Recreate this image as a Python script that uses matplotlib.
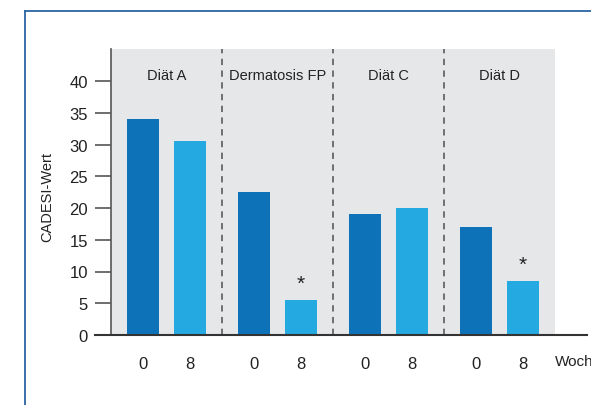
import matplotlib
matplotlib.use("Agg")
import matplotlib.pyplot as plt
from matplotlib.lines import Line2D

plt.rcParams['font.family'] = ['Liberation Sans Narrow', 'Liberation Sans', 'DejaVu Sans']

groups = ["Diät A", "Dermatosis FP", "Diät C", "Diät D"]
weeks = ["0", "8"]
week0 = [34.0, 22.5, 19.0, 17.0]
week8 = [30.5, 5.5, 20.0, 8.5]
significant = [False, True, False, True]  # week 8 marked with *
yticks = [0, 5, 10, 15, 20, 25, 30, 35, 40]

dark = "#0e72b9"
light = "#24a9e1"
bg = "#e6e7e9"
grey = "#555555"

W, H = 591, 406
fig = plt.figure(figsize=(W / 100, H / 100), dpi=100)

# blue frame around the figure
frame = "#2a64a4"
fig.add_artist(Line2D([25 / W, 25 / W], [0, 1 - 12 / H], color=frame, lw=1.3))
fig.add_artist(Line2D([25 / W, 1], [1 - 12 / H, 1 - 12 / H], color=frame, lw=1.3))

ax = fig.add_axes([111 / W, (H - 336) / H, (587 - 111) / W, 286 / H])
ax.set_facecolor("none")
ax.set_xlim(0, 476 / 111)
ax.set_ylim(0, 286 / 6.35)

ax.axvspan(0, len(groups), color=bg, zorder=0, lw=0)

off = 23.5 / 111
bw = 32 / 111
xs, labels = [], []
for i, g in enumerate(groups):
    c = i + 0.5
    ax.bar(c - off, week0[i], width=bw, color=dark, zorder=2)
    ax.bar(c + off, week8[i], width=bw, color=light, zorder=2)
    if significant[i]:
        ax.text(c + off, week8[i] + 1.2, "*", ha="center", va="bottom",
                fontsize=15, color="#222222")
    ax.text(c, 41, g, ha="center", va="center", fontsize=10.5, color="#222222")
    xs += [c - off, c + off]
    labels += weeks
    if i > 0:
        ax.axvline(i, color="#666666", lw=1.3, ls=(0, (3.5, 3)), zorder=1)

ax.set_xticks(xs, labels)
ax.set_yticks(yticks)
ax.tick_params(axis="x", length=0, pad=15, labelsize=12, labelcolor="#222222")
ax.tick_params(axis="y", length=11.5, width=1.2, color=grey, pad=5,
               labelsize=12, labelcolor="#222222")

for s in ["top", "right", "bottom"]:
    ax.spines[s].set_visible(False)
ax.spines["left"].set_color(grey)
ax.spines["left"].set_linewidth(1.2)

# baseline reaching beyond the axis on the left
ax.plot([-16 / 111, 476 / 111], [0, 0], color="#333333", lw=1.5,
        clip_on=False, zorder=3)

ax.text(4.0, -4.1, "Wochen", ha="left", va="center", fontsize=11,
        color="#222222", clip_on=False)

fig.text(47 / W, 1 - 197 / H, "CADESI-Wert", rotation=90, ha="center",
         va="center", fontsize=10.5, color="#222222")

fig.savefig("out.png", dpi=100)
